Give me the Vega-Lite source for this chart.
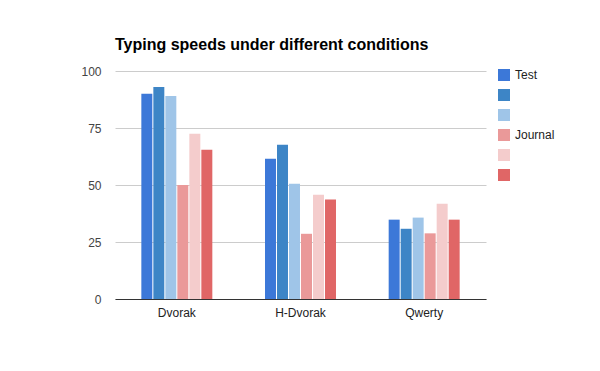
{
  "$schema": "https://vega.github.io/schema/vega-lite/v6.json",
  "autosize": "none",
  "width": 371,
  "height": 228,
  "padding": {"left": 115, "top": 71, "right": 114, "bottom": 72},
  "background": "white",
  "title": {
    "text": "Typing speeds under different conditions",
    "anchor": "start",
    "frame": "group",
    "font": "Liberation Sans",
    "fontSize": 16,
    "fontWeight": "bold",
    "color": "#000000",
    "offset": 12
  },
  "data": {
    "values": [
      {"layout": "Dvorak", "series": "Test", "speed": 90},
      {"layout": "Dvorak", "series": "s2", "speed": 93},
      {"layout": "Dvorak", "series": "s3", "speed": 89},
      {"layout": "Dvorak", "series": "Journal", "speed": 50},
      {"layout": "Dvorak", "series": "s5", "speed": 72.5},
      {"layout": "Dvorak", "series": "s6", "speed": 65.5},
      {"layout": "H-Dvorak", "series": "Test", "speed": 61.5},
      {"layout": "H-Dvorak", "series": "s2", "speed": 67.7},
      {"layout": "H-Dvorak", "series": "s3", "speed": 50.6},
      {"layout": "H-Dvorak", "series": "Journal", "speed": 28.6},
      {"layout": "H-Dvorak", "series": "s5", "speed": 45.7},
      {"layout": "H-Dvorak", "series": "s6", "speed": 43.6},
      {"layout": "Qwerty", "series": "Test", "speed": 34.8},
      {"layout": "Qwerty", "series": "s2", "speed": 30.8},
      {"layout": "Qwerty", "series": "s3", "speed": 35.7},
      {"layout": "Qwerty", "series": "Journal", "speed": 28.8},
      {"layout": "Qwerty", "series": "s5", "speed": 41.8},
      {"layout": "Qwerty", "series": "s6", "speed": 34.8}
    ]
  },
  "mark": {"type": "bar"},
  "encoding": {
    "x": {
      "field": "layout",
      "type": "nominal",
      "sort": ["Dvorak", "H-Dvorak", "Qwerty"],
      "scale": {"paddingInner": 0.426, "paddingOuter": 0.213},
      "axis": {
        "title": null,
        "labelAngle": 0,
        "ticks": false,
        "domainColor": "#333333",
        "labelFont": "Liberation Sans",
        "labelFontSize": 12,
        "labelColor": "#222222",
        "labelPadding": 8
      }
    },
    "xOffset": {
      "field": "series",
      "type": "nominal",
      "sort": ["Test", "s2", "s3", "Journal", "s5", "s6"],
      "scale": {"paddingInner": 0.085, "paddingOuter": 0}
    },
    "y": {
      "field": "speed",
      "type": "quantitative",
      "scale": {"domain": [0, 100], "nice": false},
      "axis": {
        "title": null,
        "values": [0, 25, 50, 75, 100],
        "domain": false,
        "ticks": false,
        "gridColor": "#cccccc",
        "labelFont": "Liberation Sans",
        "labelFontSize": 12,
        "labelColor": "#444444",
        "labelPadding": 14
      }
    },
    "color": {
      "field": "series",
      "type": "nominal",
      "sort": ["Test", "s2", "s3", "Journal", "s5", "s6"],
      "scale": {
        "domain": ["Test", "s2", "s3", "Journal", "s5", "s6"],
        "range": ["#3c78d8", "#3d85c6", "#9fc5e8", "#ea9999", "#f4cccc", "#e06666"]
      },
      "legend": {
        "title": null,
        "orient": "none",
        "legendX": 383,
        "legendY": -2,
        "symbolType": "square",
        "symbolSize": 144,
        "symbolStrokeWidth": 0,
        "symbolOpacity": 1,
        "labelFont": "Liberation Sans",
        "labelFontSize": 12,
        "labelColor": "#222222",
        "labelOffset": 5,
        "rowPadding": 8,
        "labelExpr": "datum.label == 'Test' || datum.label == 'Journal' ? datum.label : ''"
      }
    }
  },
  "config": {"view": {"stroke": null}}
}
